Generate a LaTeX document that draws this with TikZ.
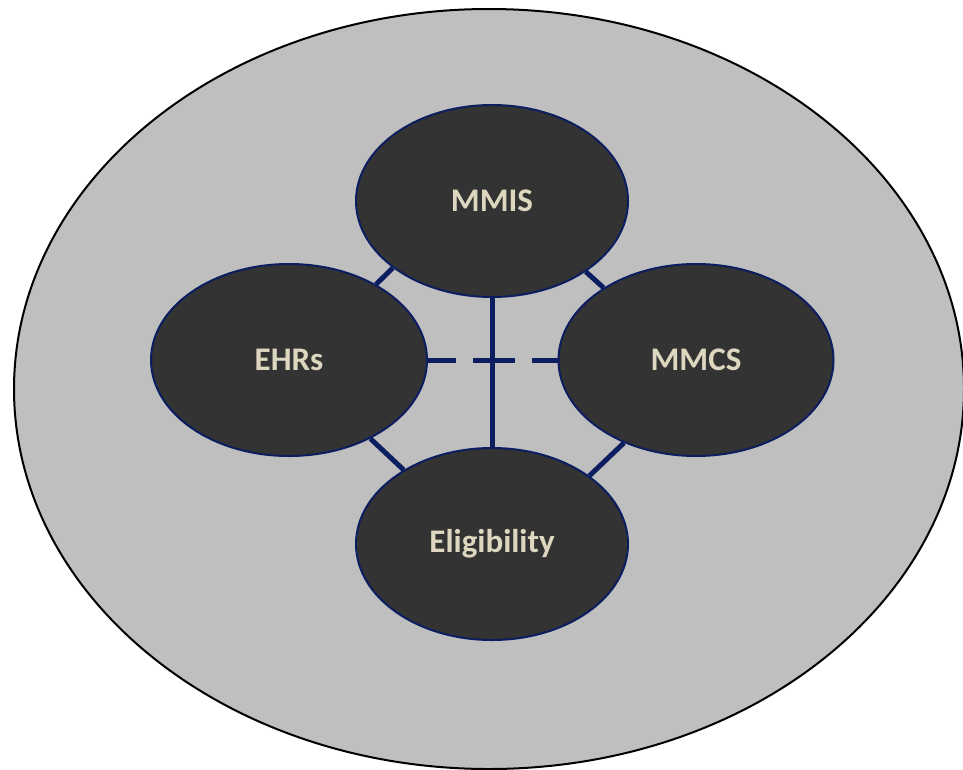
\documentclass[tikz,border=0pt]{standalone}
\usepackage{fontspec}
\setmainfont{Carlito}
\usepackage{tikz}
\usetikzlibrary{shapes}
\usetikzlibrary{backgrounds}

\definecolor{ringgray}{RGB}{191,191,191}
\definecolor{blobfill}{RGB}{51,51,51}
\definecolor{linknavy}{RGB}{12,30,96}
\definecolor{labelbeige}{RGB}{221,215,192}

\begin{document}
\begin{tikzpicture}[x=1pt,y=-1pt]
            \tikzset{every node/.style={ellipse, inner sep=0pt},
                    sys/.style={fill=blobfill, draw=linknavy, line width=2pt,
                        minimum width=272pt, minimum height=192pt,
                        text=labelbeige, font=\fontsize{33}{39}\selectfont\bfseries},
                    every edge/.style={draw=linknavy, line width=5pt}}
            \useasboundingbox (0,0) rectangle (963,769);
            \node[fill=ringgray, draw=black, line width=2pt,
                minimum width=950pt, minimum height=760pt] (ring) at (489,389) {};
            \node[sys] (mmis) at (492,201) {MMIS};
            \node[sys, minimum width=276pt] (ehrs) at (289,360) {EHRs};
            \node[sys, minimum width=275pt] (mmcs) at (696,360) {MMCS};
            \node[sys] (elig) at (492,544) {Eligibility};
            \path [-] (mmis.214) edge node {} (ehrs.41);
            \path [-] (mmis.323) edge node {} (mmcs.142);
            \path [-] (ehrs.316) edge node {} (elig.140);
            \path [-] (mmcs.229) edge node {} (elig.35);
            \path [-] (mmis.south) edge node {} (elig.north);
            \path [-] (ehrs.east) edge[dash pattern=on 42pt off 17pt, dash phase=14pt] node {} (mmcs.west);
        \end{tikzpicture}
\end{document}
